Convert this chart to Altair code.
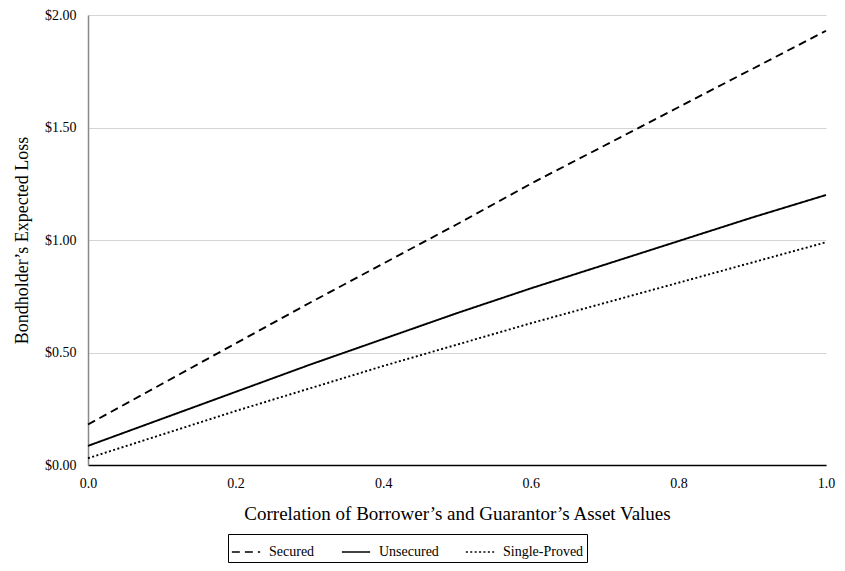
import altair as alt
import pandas as pd

correlation = [0.0, 0.1, 0.2, 0.3, 0.4, 0.5, 0.6, 0.7, 0.8, 0.9, 1.0]
secured = [0.18, 0.36, 0.54, 0.72, 0.895, 1.07, 1.25, 1.42, 1.59, 1.76, 1.93]
unsecured = [0.085, 0.205, 0.325, 0.445, 0.56, 0.675, 0.785, 0.89, 0.995, 1.10, 1.20]
single_proved = [0.03, 0.135, 0.24, 0.34, 0.44, 0.535, 0.63, 0.72, 0.81, 0.90, 0.99]
series_names = ["Secured", "Unsecured", "Single-Proved"]
x_ticks = [0.0, 0.2, 0.4, 0.6, 0.8, 1.0]
y_ticks = [0.0, 0.5, 1.0, 1.5, 2.0]

rows = []
for name, vals in zip(series_names, [secured, unsecured, single_proved]):
    for xv, yv in zip(correlation, vals):
        rows.append({"series": name, "x": xv, "y": yv})
df = pd.DataFrame(rows)

FONT = "Liberation Serif"

chart = alt.Chart(df).mark_line(color="black", strokeWidth=1.9).encode(
    x=alt.X("x:Q",
            scale=alt.Scale(domain=[0, 1], nice=False),
            axis=alt.Axis(values=x_ticks, format=".1f", grid=False, ticks=False,
                          domainColor="black", domainWidth=1.5, labelFlush=False,
                          labelFont=FONT, labelFontSize=14, labelColor="black",
                          labelPadding=11,
                          title="Correlation of Borrower\u2019s and Guarantor\u2019s Asset Values",
                          titleFont=FONT, titleFontSize=19, titleFontWeight="normal",
                          titleColor="black", titlePadding=14)),
    y=alt.Y("y:Q",
            scale=alt.Scale(domain=[0, 2], nice=False),
            axis=alt.Axis(values=y_ticks, format="$.2f", grid=True, gridColor="#d4d4d4",
                          gridWidth=1, ticks=False, domainColor="#888888", domainWidth=1.5,
                          labelFont=FONT, labelFontSize=14, labelColor="black",
                          labelPadding=12,
                          title="Bondholder\u2019s Expected Loss",
                          titleFont=FONT, titleFontSize=18, titleFontWeight="normal",
                          titleColor="black", titlePadding=13)),
    strokeDash=alt.StrokeDash("series:N",
                              scale=alt.Scale(domain=series_names,
                                              range=[[8, 5], [1, 0], [2, 2.4]]),
                              legend=alt.Legend(title=None, orient="none",
                                                direction="horizontal",
                                                legendX=140, legendY=519,
                                                strokeColor="black", padding=3,
                                                symbolType="stroke", symbolSize=800,
                                                symbolStrokeColor="black",
                                                symbolStrokeWidth=1.7,
                                                labelFont=FONT, labelFontSize=14,
                                                labelColor="black", columnPadding=23,
                                                labelOffset=8)),
).properties(
    width=738,
    height=450,
    autosize=alt.AutoSizeParams(type="none"),
    padding={"left": 80, "top": 7, "right": 11, "bottom": 98},
).configure_view(stroke=None)

chart.save("out.html", embed_options={"renderer": "svg", "actions": False})
